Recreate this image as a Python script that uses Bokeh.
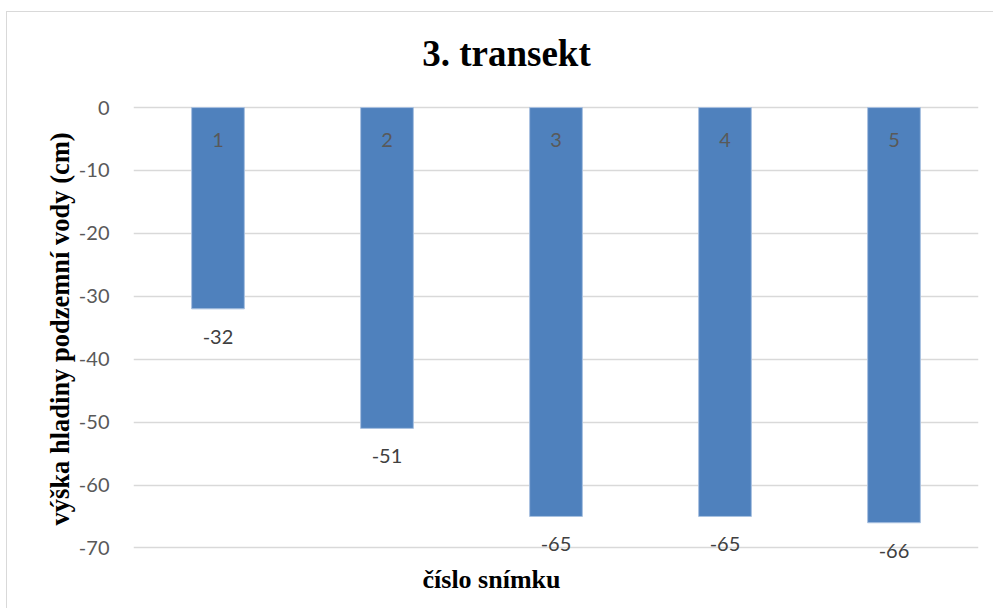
from bokeh.plotting import figure
from bokeh.models import FactorRange, Range1d, ColumnDataSource, Title, FixedTicker, LabelSet, Label
from bokeh.core.properties import value
from bokeh.embed import file_html
from bokeh.resources import INLINE

categories = ["1", "2", "3", "4", "5"]
values = [-32, -51, -65, -65, -66]
y_ticks = [0, -10, -20, -30, -40, -50, -60, -70]
title_text = "3. transekt"
x_label = "číslo snímku"
y_label = "výška hladiny podzemní vody (cm)"

src = ColumnDataSource(dict(
    cat=categories,
    val=values,
    lbl=[str(v) for v in values],
    zero=[0] * len(categories),
))

# frame extends above 0 to host the chart title, below -70 for the data labels
p = figure(width=993, height=608,
           x_range=FactorRange(*categories, range_padding=0),
           y_range=Range1d(-72, 14),
           output_backend="svg", toolbar_location=None,
           min_border_left=133, min_border_right=15,
           min_border_top=19, min_border_bottom=48)
p.outline_line_color = None
p.background_fill_color = "white"
p.border_fill_color = None
p.styles = {
    "background": "linear-gradient(#d9d9d9,#d9d9d9) 6px 11px / 1px 100% no-repeat, "
                  "linear-gradient(#d9d9d9,#d9d9d9) 6px 11px / 100% 1px no-repeat, white"
}

p.vbar(x="cat", top="val", bottom=0, width=0.312, source=src,
       fill_color="#4f81bd", line_color="#a9c1e0", line_width=1)

p.add_layout(LabelSet(x="cat", y="val", text="lbl", y_offset=-28, source=src,
                      text_align="center", text_baseline="middle",
                      text_font=value("Lato"), text_font_size="20px", text_color="#404040"))
p.add_layout(LabelSet(x="cat", y="zero", text="cat", y_offset=-32, source=src,
                      text_align="center", text_baseline="middle",
                      text_font=value("Lato"), text_font_size="20px", text_color="#595959"))

p.xaxis.visible = False
p.xgrid.visible = False
p.ygrid.grid_line_color = "#d9d9d9"
p.ygrid.grid_line_width = 1.3

ya = p.yaxis[0]
ya.ticker = FixedTicker(ticks=y_ticks)
ya.major_label_overrides = {t: str(t) for t in y_ticks}
ya.axis_line_color = None
ya.major_tick_line_color = None
ya.minor_tick_line_color = None
ya.major_tick_out = 0
ya.major_label_standoff = 24
ya.major_label_text_font = "Lato"
ya.major_label_text_font_size = "20px"
ya.major_label_text_color = "#595959"

p.add_layout(Title(text=y_label, align="left", offset=35,
                   text_font="Liberation Serif", text_font_style="bold",
                   text_font_size="26.5px", text_color="black", standoff=2), "left")

p.title.text = ""
p.add_layout(Label(x=421.7, x_units="canvas", y=8.6, y_units="data",
                   text=title_text, text_align="left", text_baseline="alphabetic",
                   text_font="Liberation Serif", text_font_style="bold",
                   text_font_size="37px", text_color="black"))

p.add_layout(Title(text=x_label, align="left", offset=289,
                   text_font="Liberation Serif", text_font_style="bold",
                   text_font_size="26px", text_color="black", standoff=4), "below")

open("out.html", "w").write(file_html(p, INLINE))
